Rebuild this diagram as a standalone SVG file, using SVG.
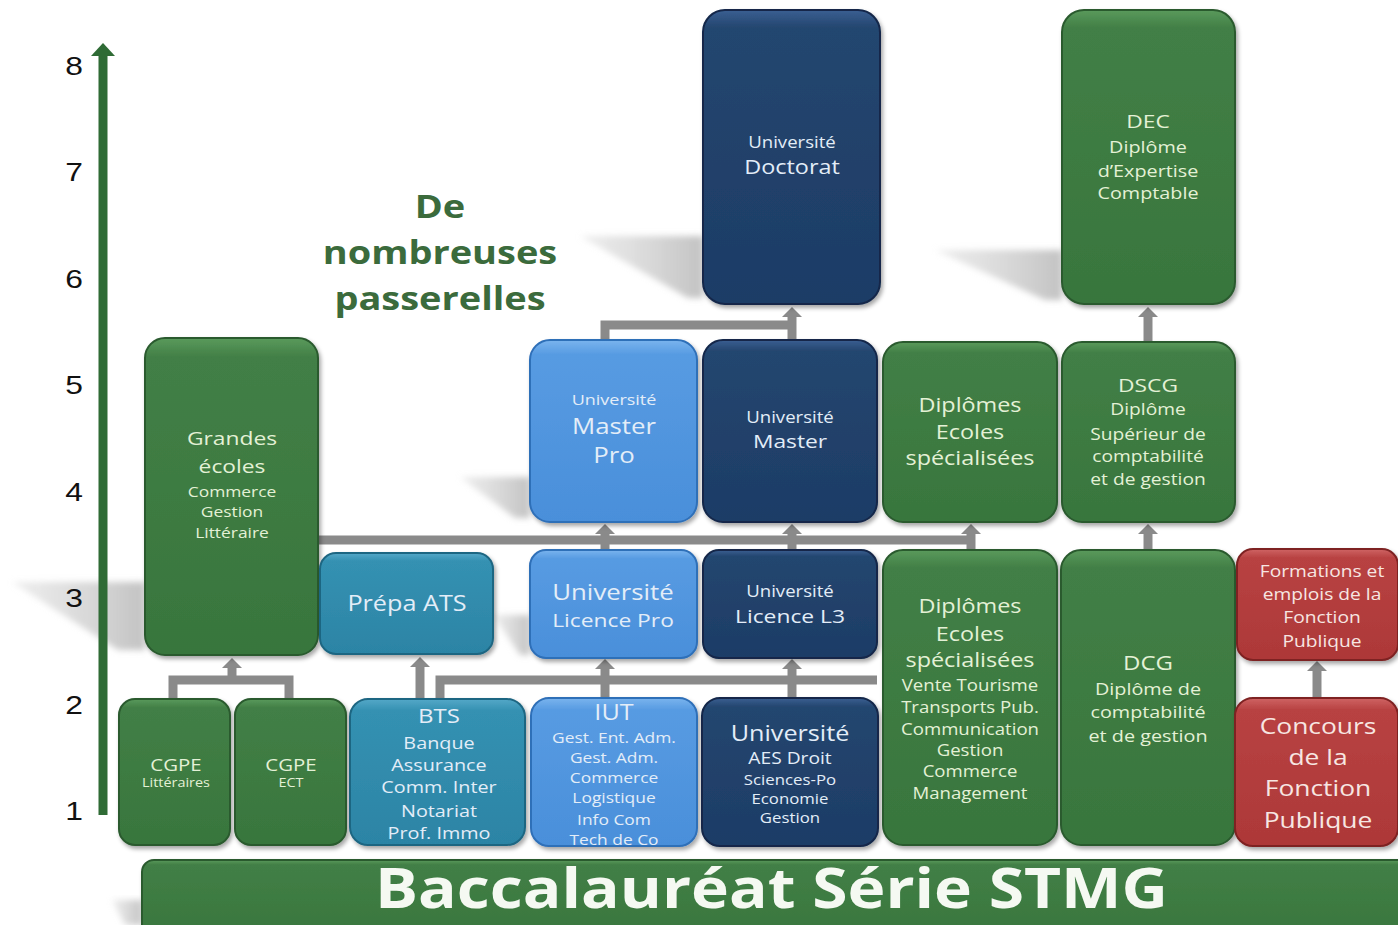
<svg xmlns="http://www.w3.org/2000/svg" width="1398" height="925" viewBox="0 0 1398 925">
<defs>
  <linearGradient id="gGreen" x1="0" y1="0" x2="0" y2="1">
    <stop offset="0" stop-color="#5a9a5c"/><stop offset="0.06" stop-color="#427f46"/><stop offset="1" stop-color="#38763d"/>
  </linearGradient>
  <linearGradient id="gTeal" x1="0" y1="0" x2="0" y2="1">
    <stop offset="0" stop-color="#55a8c8"/><stop offset="0.08" stop-color="#3491b2"/><stop offset="1" stop-color="#2c84a5"/>
  </linearGradient>
  <linearGradient id="gLight" x1="0" y1="0" x2="0" y2="1">
    <stop offset="0" stop-color="#7ab4ee"/><stop offset="0.08" stop-color="#579be2"/><stop offset="1" stop-color="#4a8fda"/>
  </linearGradient>
  <linearGradient id="gNavy" x1="0" y1="0" x2="0" y2="1">
    <stop offset="0" stop-color="#3a5f92"/><stop offset="0.06" stop-color="#24466f"/><stop offset="1" stop-color="#1d3c66"/>
  </linearGradient>
  <linearGradient id="gRed" x1="0" y1="0" x2="0" y2="1">
    <stop offset="0" stop-color="#cf6464"/><stop offset="0.08" stop-color="#b84242"/><stop offset="1" stop-color="#ad3838"/>
  </linearGradient>
  <linearGradient id="gShadow" x1="0" y1="0" x2="1" y2="0">
    <stop offset="0" stop-color="#d4d4d4" stop-opacity="0.4"/><stop offset="1" stop-color="#bcbcbc" stop-opacity="0.9"/>
  </linearGradient>
  <filter id="ds" x="-10%" y="-10%" width="125%" height="125%">
    <feDropShadow dx="2" dy="3" stdDeviation="2" flood-color="#000" flood-opacity="0.35"/>
  </filter>
  <filter id="blur" x="-20%" y="-20%" width="140%" height="140%">
    <feGaussianBlur stdDeviation="3"/>
  </filter>
  <marker id="arr" viewBox="0 0 10 20" refX="0" refY="10" markerWidth="10" markerHeight="20" markerUnits="userSpaceOnUse" orient="auto">
    <path d="M0,0 L10,10 L0,20 z" fill="#8a8a8a"/>
  </marker>
</defs>
<style>
  .box{filter:url(#ds);stroke-width:2}
  .gr{fill:url(#gGreen);stroke:#2a5a2e}
  .te{fill:url(#gTeal);stroke:#1f6682}
  .lb{fill:url(#gLight);stroke:#2f6fb8}
  .nv{fill:url(#gNavy);stroke:#12284a}
  .rd{fill:url(#gRed);stroke:#7e2222}
  text{font-family:"Open Sans","DejaVu Sans",sans-serif;text-anchor:middle}
  .tg text{fill:#e4f1d6}
  .tb text{fill:#e3edf8}
  .tr text{fill:#f7e6e2}
  .num text{font-family:"Liberation Sans",Arial,sans-serif;fill:#111;font-size:26.5px}
  .conn{stroke:#8a8a8a;stroke-width:9;fill:none}
  .shadow{fill:url(#gShadow);filter:url(#blur)}
</style>

<g id="shadows">
  <polygon class="shadow" points="12,582 145,582 145,650 118,650"/>
  <polygon class="shadow" points="580,236 703,236 703,298 688,298"/>
  <polygon class="shadow" points="935,250 1062,250 1062,300 1045,300"/>
  <polygon class="shadow" points="460,477 530,477 530,518 515,518"/>
  <polygon class="shadow" points="493,615 530,615 530,655 520,655"/>
  <polygon class="shadow" points="112,900 142,900 142,925 125,925"/>
</g>

<g id="axis">
  <line x1="103" y1="815" x2="103" y2="54" stroke="#2f6b35" stroke-width="9"/>
  <polygon points="91,56 103,43 115,56" fill="#2f6b35"/>
  <g class="num" transform="translate(74 0) scale(1.2 1)">
    <text x="0" y="75">8</text>
    <text x="0" y="181.5">7</text>
    <text x="0" y="288">6</text>
    <text x="0" y="394.5">5</text>
    <text x="0" y="501">4</text>
    <text x="0" y="607.5">3</text>
    <text x="0" y="714">2</text>
    <text x="0" y="820.5">1</text>
  </g>
</g>

<g id="title" transform="translate(440 0) scale(1.15 1)">
  <text x="0" y="218" font-size="33" font-weight="bold" fill="#3b6b3c">De</text>
  <text x="0" y="264" font-size="33" font-weight="bold" fill="#3b6b3c">nombreuses</text>
  <text x="0" y="310" font-size="33" font-weight="bold" fill="#3b6b3c">passerelles</text>
</g>

<g id="connectors">
  <path class="conn" d="M173,699 V680 H289 V699"/>
  <path class="conn" d="M232,680 V668" marker-end="url(#arr)"/>
  <path class="conn" d="M420,698 V667" marker-end="url(#arr)"/>
  <path class="conn" d="M440,698 V680 H877"/>
  <path class="conn" d="M605,698 V669" marker-end="url(#arr)"/>
  <path class="conn" d="M792,698 V669" marker-end="url(#arr)"/>
  <path class="conn" d="M318,540 H975"/>
  <path class="conn" d="M605,550 V540 M792,550 V540 M971,550 V540"/>
  <path class="conn" d="M605,540 V534" marker-end="url(#arr)"/>
  <path class="conn" d="M792,540 V534" marker-end="url(#arr)"/>
  <path class="conn" d="M971,540 V534" marker-end="url(#arr)"/>
  <path class="conn" d="M1148,550 V534" marker-end="url(#arr)"/>
  <path class="conn" d="M1148,342 V317" marker-end="url(#arr)"/>
  <path class="conn" d="M605,340 V325 H792"/>
  <path class="conn" d="M792,340 V317" marker-end="url(#arr)"/>
  <path class="conn" d="M1317,698 V671" marker-end="url(#arr)"/>
</g>

<g id="grandes-ecoles">
  <rect class="box gr" x="145" y="338" width="173" height="317" rx="20"/>
  <g class="tg" transform="translate(232 0) scale(1.2 1)">
    <text x="0" y="445" font-size="19">Grandes</text>
    <text x="0" y="473" font-size="19">écoles</text>
    <text x="0" y="497" font-size="14.5">Commerce</text>
    <text x="0" y="517" font-size="14.5">Gestion</text>
    <text x="0" y="538" font-size="14.5">Littéraire</text>
  </g>
</g>

<g id="prepa-ats">
  <rect class="box te" x="320" y="553" width="173" height="101" rx="16"/>
  <g class="tb" transform="translate(407 0) scale(1.2 1)">
    <text x="0" y="611" font-size="21">Prépa ATS</text>
  </g>
</g>

<g id="cgpe-litteraires">
  <rect class="box gr" x="119" y="699" width="111" height="146" rx="16"/>
  <g class="tg" transform="translate(176 0) scale(1.2 1)">
    <text x="0" y="771" font-size="17">CGPE</text>
    <text x="0" y="787" font-size="12">Littéraires</text>
  </g>
</g>

<g id="cgpe-ect">
  <rect class="box gr" x="235" y="699" width="111" height="146" rx="16"/>
  <g class="tg" transform="translate(291 0) scale(1.2 1)">
    <text x="0" y="771" font-size="17">CGPE</text>
    <text x="0" y="787" font-size="12">ECT</text>
  </g>
</g>

<g id="bts">
  <rect class="box te" x="350" y="699" width="175" height="146" rx="18"/>
  <g class="tb" transform="translate(439 0) scale(1.2 1)">
    <text x="0" y="723" font-size="20">BTS</text>
    <text x="0" y="749" font-size="16.5">Banque</text>
    <text x="0" y="771" font-size="16.5">Assurance</text>
    <text x="0" y="793" font-size="16.5">Comm. Inter</text>
    <text x="0" y="817" font-size="16.5">Notariat</text>
    <text x="0" y="839" font-size="16.5">Prof. Immo</text>
  </g>
</g>

<g id="iut">
  <rect class="box lb" x="531" y="698" width="166" height="148" rx="18"/>
  <g class="tb" transform="translate(614 0) scale(1.2 1)">
    <text x="0" y="720" font-size="21">IUT</text>
    <text x="0" y="743" font-size="14.5">Gest. Ent. Adm.</text>
    <text x="0" y="763" font-size="14.5">Gest. Adm.</text>
    <text x="0" y="783" font-size="14.5">Commerce</text>
    <text x="0" y="803" font-size="14.5">Logistique</text>
    <text x="0" y="825" font-size="14.5">Info Com</text>
    <text x="0" y="845" font-size="14.5">Tech de Co</text>
  </g>
</g>

<g id="universite-aes">
  <rect class="box nv" x="702" y="698" width="176" height="148" rx="18"/>
  <g class="tb" transform="translate(790 0) scale(1.2 1)">
    <text x="0" y="741" font-size="21">Université</text>
    <text x="0" y="764" font-size="16">AES Droit</text>
    <text x="0" y="785" font-size="14">Sciences-Po</text>
    <text x="0" y="804" font-size="14">Economie</text>
    <text x="0" y="823" font-size="14">Gestion</text>
  </g>
</g>

<g id="diplomes-ecoles-bas">
  <rect class="box gr" x="883" y="550" width="174" height="295" rx="20"/>
  <g class="tg" transform="translate(970 0) scale(1.2 1)">
    <text x="0" y="613" font-size="19.5">Diplômes</text>
    <text x="0" y="641" font-size="19.5">Ecoles</text>
    <text x="0" y="667" font-size="19.5">spécialisées</text>
    <text x="0" y="691" font-size="15.5">Vente Tourisme</text>
    <text x="0" y="713" font-size="15.5">Transports Pub.</text>
    <text x="0" y="735" font-size="15.5">Communication</text>
    <text x="0" y="756" font-size="15.5">Gestion</text>
    <text x="0" y="777" font-size="15.5">Commerce</text>
    <text x="0" y="799" font-size="15.5">Management</text>
  </g>
</g>

<g id="dcg">
  <rect class="box gr" x="1061" y="550" width="174" height="295" rx="20"/>
  <g class="tg" transform="translate(1148 0) scale(1.2 1)">
    <text x="0" y="670" font-size="20">DCG</text>
    <text x="0" y="695" font-size="16.5">Diplôme de</text>
    <text x="0" y="718" font-size="16.5">comptabilité</text>
    <text x="0" y="742" font-size="16.5">et de gestion</text>
  </g>
</g>

<g id="formations-fonction-publique">
  <rect class="box rd" x="1237" y="549" width="161" height="111" rx="16"/>
  <g class="tr" transform="translate(1322 0) scale(1.2 1)">
    <text x="0" y="577" font-size="16">Formations et</text>
    <text x="0" y="600" font-size="16">emplois de la</text>
    <text x="0" y="623" font-size="16">Fonction</text>
    <text x="0" y="647" font-size="16">Publique</text>
  </g>
</g>

<g id="concours-fonction-publique">
  <rect class="box rd" x="1235" y="698" width="163" height="148" rx="18"/>
  <g class="tr" transform="translate(1318 0) scale(1.2 1)">
    <text x="0" y="734" font-size="22">Concours</text>
    <text x="0" y="765" font-size="22">de la</text>
    <text x="0" y="796" font-size="22">Fonction</text>
    <text x="0" y="828" font-size="22">Publique</text>
  </g>
</g>

<g id="licence-pro">
  <rect class="box lb" x="530" y="550" width="167" height="108" rx="16"/>
  <g class="tb" transform="translate(613 0) scale(1.2 1)">
    <text x="0" y="600" font-size="21.5">Université</text>
    <text x="0" y="627" font-size="19">Licence Pro</text>
  </g>
</g>

<g id="licence-l3">
  <rect class="box nv" x="703" y="550" width="174" height="108" rx="16"/>
  <g class="tb" transform="translate(790 0) scale(1.2 1)">
    <text x="0" y="597" font-size="15.5">Université</text>
    <text x="0" y="623" font-size="19">Licence L3</text>
  </g>
</g>

<g id="master-pro">
  <rect class="box lb" x="530" y="340" width="167" height="182" rx="20"/>
  <g class="tb" transform="translate(614 0) scale(1.2 1)">
    <text x="0" y="405" font-size="15">Université</text>
    <text x="0" y="434" font-size="21.5">Master</text>
    <text x="0" y="463" font-size="21.5">Pro</text>
  </g>
</g>

<g id="master">
  <rect class="box nv" x="703" y="340" width="174" height="182" rx="20"/>
  <g class="tb" transform="translate(790 0) scale(1.2 1)">
    <text x="0" y="423" font-size="15.5">Université</text>
    <text x="0" y="448" font-size="19">Master</text>
  </g>
</g>

<g id="diplomes-ecoles-haut">
  <rect class="box gr" x="883" y="342" width="174" height="180" rx="20"/>
  <g class="tg" transform="translate(970 0) scale(1.2 1)">
    <text x="0" y="412" font-size="19.5">Diplômes</text>
    <text x="0" y="439" font-size="19.5">Ecoles</text>
    <text x="0" y="465" font-size="19.5">spécialisées</text>
  </g>
</g>

<g id="dscg">
  <rect class="box gr" x="1062" y="342" width="173" height="180" rx="20"/>
  <g class="tg" transform="translate(1148 0) scale(1.2 1)">
    <text x="0" y="392" font-size="19">DSCG</text>
    <text x="0" y="415" font-size="16">Diplôme</text>
    <text x="0" y="440" font-size="16">Supérieur de</text>
    <text x="0" y="462" font-size="16">comptabilité</text>
    <text x="0" y="485" font-size="16">et de gestion</text>
  </g>
</g>

<g id="doctorat">
  <rect class="box nv" x="703" y="10" width="177" height="294" rx="22"/>
  <g class="tb" transform="translate(792 0) scale(1.2 1)">
    <text x="0" y="148" font-size="15.5">Université</text>
    <text x="0" y="174" font-size="19.5">Doctorat</text>
  </g>
</g>

<g id="dec">
  <rect class="box gr" x="1062" y="10" width="173" height="294" rx="22"/>
  <g class="tg" transform="translate(1148 0) scale(1.2 1)">
    <text x="0" y="128" font-size="19">DEC</text>
    <text x="0" y="153" font-size="16.5">Diplôme</text>
    <text x="0" y="177" font-size="16.5">d’Expertise</text>
    <text x="0" y="199" font-size="16.5">Comptable</text>
  </g>
</g>

<g id="baccalaureat">
  <rect class="box gr" x="142" y="860" width="1275" height="80" rx="12"/>
  <text x="771.5" y="908" font-size="55" font-weight="bold" fill="#f5f9f2" textLength="793" lengthAdjust="spacingAndGlyphs">Baccalauréat Série STMG</text>
</g>
</svg>
